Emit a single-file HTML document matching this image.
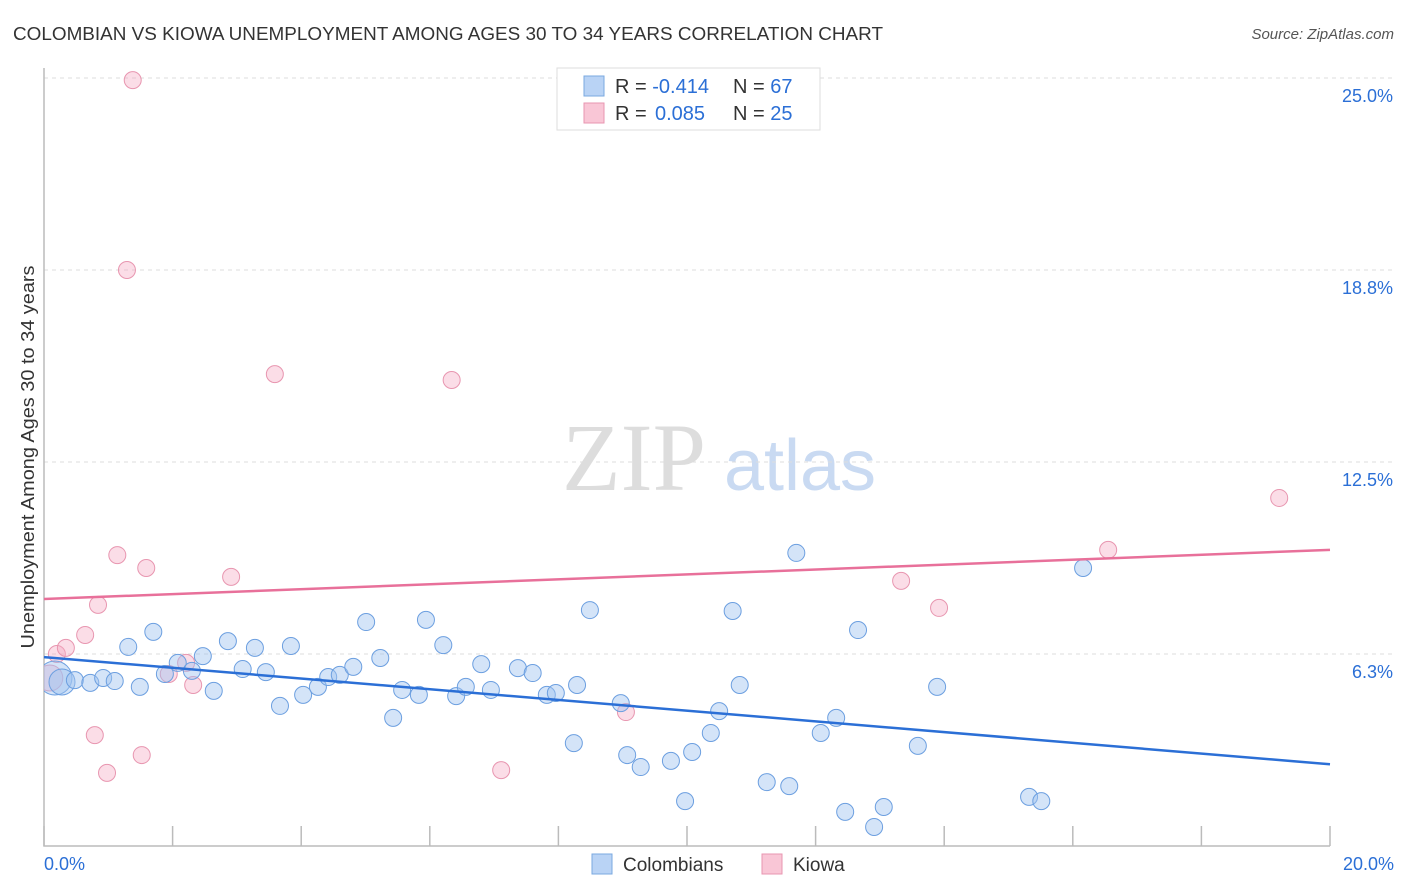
<!DOCTYPE html>
<html><head><meta charset="utf-8"><style>
body{margin:0;background:#fff;font-family:"Liberation Sans",sans-serif;}
svg{display:block}
</style></head><body>
<svg id="c" width="1406" height="892">
<text x="13" y="40" font-size="18" fill="#333" textLength="870" lengthAdjust="spacingAndGlyphs">COLOMBIAN VS KIOWA UNEMPLOYMENT AMONG AGES 30 TO 34 YEARS CORRELATION CHART</text>
<text x="1394" y="39" font-size="15" fill="#555" text-anchor="end" font-style="italic">Source: ZipAtlas.com</text>
<text x="34" y="457" font-size="18" fill="#333" text-anchor="middle" textLength="383" lengthAdjust="spacingAndGlyphs" transform="rotate(-90 34 457)">Unemployment Among Ages 30 to 34 years</text>
<g><text x="634" y="490" font-size="96" fill="#ddd" font-family="Liberation Serif,serif" text-anchor="middle">ZIP</text><text x="800" y="490" font-size="72" fill="#c9daf2" text-anchor="middle">atlas</text></g>
<g id="grid"></g><g id="marks"></g>
<g>
<rect x="557" y="68" width="263" height="62" fill="#fff" stroke="#ddd"/>
<rect x="584" y="76" width="20" height="20" fill="#b9d3f5" stroke="#7aa8e0"/>
<rect x="584" y="103" width="20" height="20" fill="#f9c6d6" stroke="#e896b0"/>
<text x="615" y="93" font-size="20" fill="#333">R = <tspan fill="#2b6fd6">-0.414</tspan></text>
<text x="733" y="93" font-size="20" fill="#333">N = <tspan fill="#2b6fd6">67</tspan></text>
<text x="615" y="120" font-size="20" fill="#333">R = <tspan fill="#2b6fd6" x="655">0.085</tspan></text>
<text x="733" y="120" font-size="20" fill="#333">N = <tspan fill="#2b6fd6">25</tspan></text>
</g>
<g>
<rect x="592" y="854" width="20" height="20" fill="#b9d3f5" stroke="#7aa8e0"/>
<text x="623" y="871" font-size="19" fill="#333">Colombians</text>
<rect x="762" y="854" width="20" height="20" fill="#f9c6d6" stroke="#e896b0"/>
<text x="793" y="871" font-size="19" fill="#333">Kiowa</text>
</g>
</svg>
<script>
const blueX=[0.17,0.28,0.48,0.72,0.92,1.10,1.31,1.49,1.70,1.88,2.08,2.30,2.47,2.64,2.86,3.09,3.28,3.45,3.67,3.84,4.03,4.26,4.42,4.60,4.81,5.01,5.23,5.43,5.57,5.83,5.94,6.21,6.41,6.56,6.80,6.95,7.37,7.60,7.82,7.96,8.24,8.29,8.49,8.97,9.07,9.28,9.75,9.97,10.08,10.37,10.50,10.71,10.82,11.24,11.59,11.70,12.08,12.32,12.46,12.66,12.91,13.06,13.59,13.89,15.32,15.51,16.16];
const blueY=[5.47,5.34,5.40,5.31,5.47,5.37,6.48,5.18,6.97,5.60,5.96,5.70,6.18,5.05,6.67,5.76,6.45,5.66,4.56,6.51,4.92,5.18,5.50,5.57,5.83,7.29,6.12,4.17,5.08,4.92,7.36,6.54,4.88,5.18,5.92,5.08,5.79,5.63,4.92,4.98,3.35,5.24,7.68,4.65,2.96,2.57,2.77,1.46,3.06,3.68,4.39,7.65,5.24,2.08,1.95,9.54,3.68,4.17,1.11,7.03,0.62,1.27,3.26,5.18,1.60,1.46,9.05];
const pinkX=[0.09,0.20,0.34,0.64,0.84,0.79,0.98,1.14,1.29,1.38,1.52,1.59,1.94,2.21,2.32,2.91,3.59,6.34,7.11,9.05,13.33,13.92,16.55,19.21];
const pinkY=[5.47,6.25,6.45,6.87,7.85,3.61,2.38,9.47,18.75,24.93,2.96,9.05,5.60,5.96,5.24,8.76,15.36,15.17,2.47,4.36,8.63,7.75,9.64,11.33];
const blueTrend=[6.15,2.66];
const pinkTrend=[8.04,9.64];
const yTicks=[6.3,12.5,18.8,25.0];
const yTickVals=[6.25,12.5,18.75,25];
const xTickLabels=["0.0%","20.0%"];
const X0=44,X1=1330,YB=846;
const sx=v=>X0+v/20*(X1-X0);
const sy=v=>YB-v*30.72;
const NS="http://www.w3.org/2000/svg";
function mk(p,t,a){const e=document.createElementNS(NS,t);for(const k in a)e.setAttribute(k,a[k]);p.appendChild(e);return e;}
const g=document.getElementById('grid'),m=document.getElementById('marks');
yTickVals.forEach((v,i)=>{
 const l=mk(g,'line',{x1:X0,x2:1394,y1:sy(v),y2:sy(v),stroke:'#ddd','stroke-dasharray':'4 4'});
 
 
 const t=mk(g,'text',{x:1393,y:sy(v)+24,'font-size':18,fill:'#2b6fd6','text-anchor':'end'});t.textContent=yTicks[i].toFixed(1)+'%';
 
 
});
const ax=mk(g,'path',{d:`M${X0} 68V${YB}H${X1}`,fill:'none',stroke:'#bbb','stroke-width':1.5});


for(let i=0;i<=10;i++){const tk=mk(g,'line',{x1:sx(i*2),x2:sx(i*2),y1:826,y2:YB,stroke:'#bbb','stroke-width':1.5});
 
 }
[[0,'start',44],[20,'end',1394]].forEach(([v,a,x],i)=>{const t=mk(g,'text',{x:x,y:870,'font-size':18,fill:'#2b6fd6','text-anchor':a});t.textContent=xTickLabels[i];
 
 });
const clip=mk(m,'clipPath',{id:'cp'});mk(clip,'rect',{x:X0,y:60,width:1300,height:YB-60});
const pg=mk(m,'g',{'clip-path':'url(#cp)'});
pinkX.forEach((v,i)=>{const c=mk(pg,'circle',{cx:sx(v),cy:sy(pinkY[i]),r:i==0?13:8.5,fill:'rgba(245,170,195,0.4)',stroke:'#e896b0','stroke-width':1});
 
 });
blueX.forEach((v,i)=>{const c=mk(pg,'circle',{cx:sx(v),cy:sy(blueY[i]),r:i==0?17:(i==1?13:8.5),fill:'rgba(160,195,240,0.45)',stroke:'#6c9fe0','stroke-width':1});
 
 });
const bl=mk(m,'line',{x1:sx(0),y1:sy(blueTrend[0]),x2:sx(20),y2:sy(blueTrend[1]),stroke:'#2b6fd6','stroke-width':2.5});


const pl=mk(m,'line',{x1:sx(0),y1:sy(pinkTrend[0]),x2:sx(20),y2:sy(pinkTrend[1]),stroke:'#e8709a','stroke-width':2.5});


</script>
</body></html>
